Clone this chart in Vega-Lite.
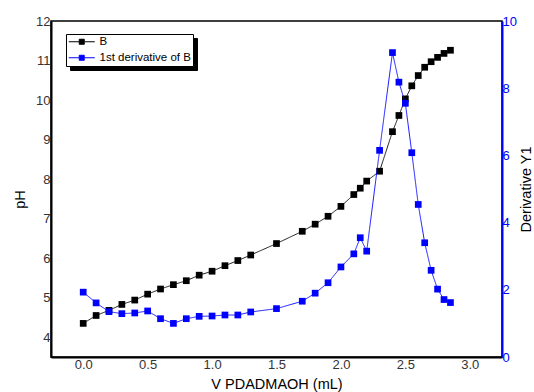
{
  "$schema": "https://vega.github.io/schema/vega-lite/v6.json",
  "width": 451,
  "height": 336,
  "autosize": {"type": "none"},
  "padding": {"left": 51, "top": 21, "right": 32, "bottom": 35},
  "background": "white",
  "config": {
    "view": {"stroke": "black", "strokeWidth": 1.5},
    "font": "Liberation Sans",
    "axis": {
      "grid": false,
      "ticks": false,
      "labelFont": "Liberation Sans",
      "labelFontSize": 13,
      "labelColor": "#333333",
      "titleFont": "Liberation Sans",
      "titleFontSize": 14.5,
      "titleFontWeight": "normal",
      "titleColor": "black",
      "domainColor": "black",
      "domainWidth": 2
    }
  },
  "data": {
    "values": [
      {"x": 0.0, "pH": 4.35, "d": 1.93},
      {"x": 0.1, "pH": 4.55, "d": 1.61},
      {"x": 0.2, "pH": 4.68, "d": 1.35},
      {"x": 0.3, "pH": 4.83, "d": 1.29},
      {"x": 0.4, "pH": 4.94, "d": 1.31},
      {"x": 0.5, "pH": 5.09, "d": 1.37},
      {"x": 0.6, "pH": 5.22, "d": 1.14},
      {"x": 0.7, "pH": 5.33, "d": 1.0},
      {"x": 0.8, "pH": 5.43, "d": 1.14},
      {"x": 0.9, "pH": 5.57, "d": 1.21},
      {"x": 1.0, "pH": 5.67, "d": 1.22},
      {"x": 1.1, "pH": 5.81, "d": 1.25},
      {"x": 1.2, "pH": 5.94, "d": 1.25},
      {"x": 1.3, "pH": 6.08, "d": 1.34},
      {"x": 1.5, "pH": 6.37, "d": 1.44},
      {"x": 1.7, "pH": 6.68, "d": 1.66},
      {"x": 1.8, "pH": 6.86, "d": 1.9},
      {"x": 1.9, "pH": 7.06, "d": 2.21},
      {"x": 2.0, "pH": 7.31, "d": 2.68},
      {"x": 2.1, "pH": 7.61, "d": 3.07},
      {"x": 2.15, "pH": 7.77, "d": 3.55},
      {"x": 2.2, "pH": 7.95, "d": 3.15},
      {"x": 2.3, "pH": 8.2, "d": 6.15},
      {"x": 2.4, "pH": 9.2, "d": 9.06},
      {"x": 2.45, "pH": 9.61, "d": 8.18},
      {"x": 2.5, "pH": 10.03, "d": 7.55},
      {"x": 2.55, "pH": 10.36, "d": 6.08},
      {"x": 2.6, "pH": 10.62, "d": 4.54},
      {"x": 2.65, "pH": 10.83, "d": 3.4},
      {"x": 2.7, "pH": 10.97, "d": 2.58},
      {"x": 2.75, "pH": 11.08, "d": 2.02},
      {"x": 2.8, "pH": 11.18, "d": 1.71},
      {"x": 2.85, "pH": 11.26, "d": 1.62}
    ]
  },
  "encoding": {
    "x": {
      "field": "x",
      "type": "quantitative",
      "scale": {"domain": [-0.25, 3.25], "nice": false, "zero": false},
      "axis": {
        "title": "V PDADMAOH (mL)",
        "values": [0, 0.5, 1, 1.5, 2, 2.5, 3],
        "format": ".1f",
        "labelPadding": 1,
        "titlePadding": 6
      }
    }
  },
  "layer": [
    {
      "mark": {"type": "line", "strokeWidth": 0.9, "point": {"shape": "square", "filled": true, "size": 45, "opacity": 1}},
      "encoding": {
        "y": {
          "field": "pH",
          "type": "quantitative",
          "scale": {"domain": [3.5, 12], "nice": false, "zero": false},
          "axis": {"title": "pH", "orient": "left", "values": [4, 5, 6, 7, 8, 9, 10, 11, 12], "labelPadding": 1, "titlePadding": 8, "titleY": 178}
        },
        "color": {
          "datum": "B",
          "type": "nominal",
          "scale": {"domain": ["B", "1st derivative of B"], "range": ["black", "#0000ff"]},
          "legend": {
            "title": null,
            "orient": "none",
            "legendX": 15,
            "legendY": 13,
            "zindex": 2,
            "fillColor": "white",
            "strokeColor": "black",
            "padding": 2,
            "labelFont": "Liberation Sans",
            "labelFontSize": 11.5,
            "labelColor": "black",
            "symbolType": "M-2.6,0H-0.55M0.55,0H2.6M-0.5,-0.5H0.5V0.5H-0.5Z",
            "symbolSize": 100,
            "symbolOffset": 8,
            "labelOffset": 12,
            "rowPadding": 3,
            "symbolStrokeWidth": 1,
            "encode": {
              "symbols": {
                "update": {
                  "fill": {"scale": "color", "field": "value"},
                  "stroke": {"scale": "color", "field": "value"},
                  "strokeWidth": {"value": 1},
                  "opacity": {"value": 1}
                }
              }
            }
          }
        },
        "strokeDash": {
          "datum": "s1",
          "type": "nominal",
          "scale": {"domain": ["s1", "s2"], "range": [[1, 0], [1, 0]]},
          "legend": {
            "title": null,
            "orient": "none",
            "legendX": 19,
            "legendY": 17,
            "zindex": 1,
            "fillColor": "black",
            "strokeColor": "black",
            "padding": 2,
            "labelFont": "Liberation Sans",
            "labelFontSize": 11.5,
            "labelColor": "black",
            "labelOpacity": 0,
            "labelExpr": "datum.value == 's1' ? 'B' : '1st derivative of B'",
            "symbolType": "M-2.6,0H-0.55M0.55,0H2.6M-0.5,-0.5H0.5V0.5H-0.5Z",
            "symbolSize": 100,
            "symbolOffset": 8,
            "labelOffset": 12,
            "rowPadding": 3,
            "symbolStrokeWidth": 1,
            "symbolStrokeColor": "black",
            "symbolFillColor": "black"
          }
        }
      }
    },
    {
      "mark": {"type": "line", "strokeWidth": 0.9, "point": {"shape": "square", "filled": true, "size": 45, "opacity": 1}},
      "encoding": {
        "y": {
          "field": "d",
          "type": "quantitative",
          "scale": {"domain": [0, 10], "nice": false},
          "axis": {
            "title": "Derivative Y1",
            "orient": "right",
            "values": [0, 2, 4, 6, 8, 10],
            "labelColor": "#0000ff",
            "domainColor": "#0000ff",
            "labelPadding": 0,
            "titlePadding": 17,
            "titleAngle": 270
          }
        },
        "color": {"datum": "1st derivative of B", "type": "nominal"},
        "strokeDash": {"datum": "s2", "type": "nominal"}
      }
    }
  ],
  "resolve": {"scale": {"y": "independent"}}
}
